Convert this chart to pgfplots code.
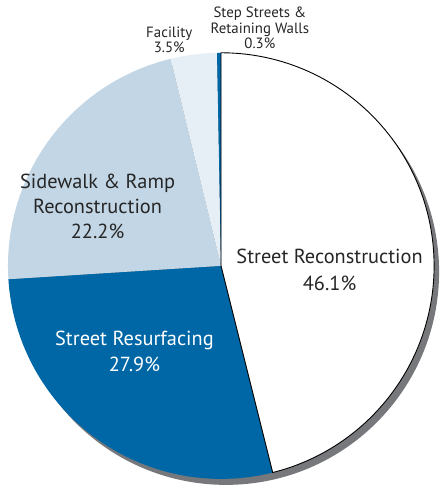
\documentclass[border=0pt]{standalone}
\usepackage{pgfplots}
\pgfplotsset{compat=1.18}
\usepackage{fontspec}
\setmainfont{PT Sans}
\definecolor{dblue}{HTML}{0067A6}
\definecolor{lblue}{HTML}{C2D6E5}
\definecolor{vlblue}{HTML}{E6EFF5}
\definecolor{shadowgray}{HTML}{77787B}
\definecolor{txt}{HTML}{262626}
% slice: #1 cumulative start (%), #2 value (%), #3 fill options
\newcommand\slice[3]{%
  \fill[#3] (axis cs:222,224) -- ++({90-3.6*#1}:214bp)
    arc[start angle={90-3.6*#1}, delta angle={-3.6*#2}, radius=214bp] -- cycle;}
\begin{document}
\begin{tikzpicture}
\begin{axis}[
  width=441bp, height=491bp, scale only axis, hide axis,
  xmin=0, xmax=441, ymin=0, ymax=491, clip=false]
\path (axis cs:0,0) rectangle (axis cs:441,491);
% shadow
\fill[shadowgray] (axis cs:227,218) circle[radius=214bp];
% slices (values in percent)
\slice{0}{46.1}{white}
\slice{46.1}{27.9}{dblue}
\slice{74.0}{22.2}{lblue}
\slice{96.2}{3.5}{vlblue}
\slice{99.7}{0.3}{dblue}
\draw[black, line width=0.9bp] (axis cs:222,224) -- ++(90:214bp)
  arc[start angle=90, delta angle={-3.6*46.1}, radius=214bp] -- cycle;
% labels
\node[align=center, text=txt, font=\fontsize{20.5}{27}\selectfont] at (axis cs:331,220) {Street Reconstruction\\46.1\%};
\node[align=center, text=white, font=\fontsize{20.5}{27}\selectfont] at (axis cs:135,138) {Street Resurfacing\\27.9\%};
\node[align=center, text=txt, font=\fontsize{20.5}{25}\selectfont] at (axis cs:98,284) {Sidewalk \& Ramp\\Reconstruction\\22.2\%};
\node[align=center, text=txt, font=\fontsize{15}{15.5}\selectfont] at (axis cs:170,451) {Facility\\3.5\%};
\node[align=center, text=txt, font=\fontsize{15}{15.5}\selectfont] at (axis cs:261,463) {Step Streets \&\\Retaining Walls\\0.3\%};
\end{axis}
\end{tikzpicture}
\end{document}
